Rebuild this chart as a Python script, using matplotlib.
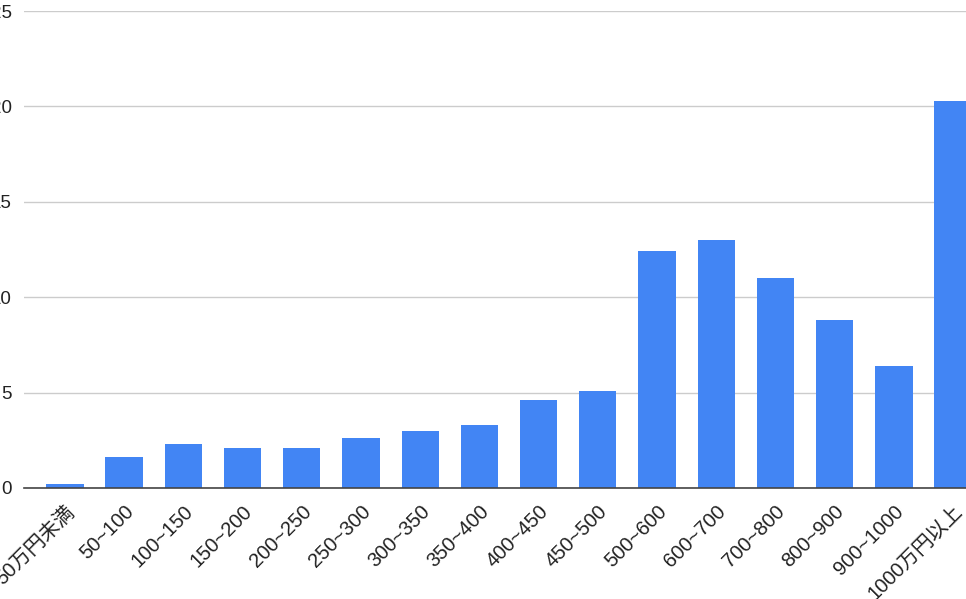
import matplotlib
matplotlib.use('Agg')
import matplotlib.pyplot as plt

plt.rcParams['font.family'] = ['Liberation Sans', 'Noto Sans CJK JP', 'DejaVu Sans']

categories = ['50万円未満', '50~100', '100~150', '150~200', '200~250', '250~300',
              '300~350', '350~400', '400~450', '450~500', '500~600', '600~700',
              '700~800', '800~900', '900~1000', '1000万円以上']
values = [0.2, 1.6, 2.3, 2.1, 2.1, 2.6, 3.0, 3.3, 4.6, 5.1, 12.4, 13.0, 11.0, 8.8, 6.4, 20.3]
y_ticks = [0, 5, 10, 15, 20, 25]

fig = plt.figure(figsize=(9.66, 5.99), dpi=100)
# the reference is cropped: the plot runs past both figure edges
left = 24 / 966
bottom = 111 / 599
width = (994 - 24) / 966
height = 477 / 599
ax = fig.add_axes([left, bottom, width, height])

x = list(range(len(categories)))
ax.bar(x, values, width=0.63, color='#4285F4', zorder=3)

ax.set_xlim(-0.69, len(categories) - 1 + 0.69)
ax.set_ylim(0, 25)
ax.set_yticks(y_ticks)
ax.set_yticklabels([str(t) for t in y_ticks], fontsize=13.5, color='#222222')
ax.grid(axis='y', color='#cccccc', linewidth=1, zorder=0)
ax.tick_params(axis='y', length=0, pad=9)
ax.tick_params(axis='x', length=0, pad=10)

ax.set_xticks(x)
ax.set_xticklabels(categories, rotation=45, ha='right', rotation_mode='anchor',
                   fontsize=14.5, color='#222222')

for side in ['top', 'right', 'left']:
    ax.spines[side].set_visible(False)
ax.spines['bottom'].set_color('#444444')
ax.spines['bottom'].set_linewidth(1.2)
ax.spines['bottom'].set_zorder(4)

fig.savefig('out.png', dpi=100)
